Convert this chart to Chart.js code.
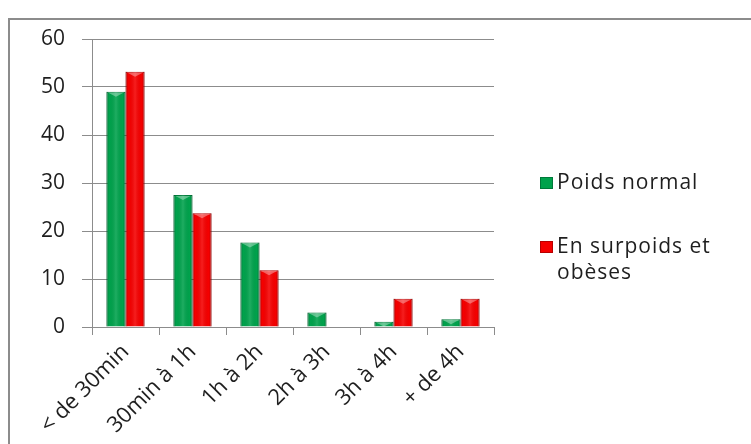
<!DOCTYPE html>
<html lang="fr">
<head>
    <meta charset="UTF-8">
    <title>Temps d'écran et poids</title>
    <script src="https://cdn.jsdelivr.net/npm/chart.js"></script>
    <style>
        html, body { margin: 0; padding: 0; background: #fff; overflow: hidden; }
        .cadre { position: absolute; left: 8px; top: 18px; width: 780px; height: 460px; border: 2px solid #8c8c8c; box-sizing: border-box; }
        .zone { position: absolute; left: 0; top: 0; width: 751px; height: 444px; }
    </style>
</head>
<body>
    <div class="cadre"></div>
    <div class="zone"><canvas id="graphique" width="751" height="444"></canvas></div>
    <script>
        // données
        const categories = ['< de 30min', '30min à 1h', '1h à 2h', '2h à 3h', '3h à 4h', '+ de 4h'];
        const poidsNormal = [49, 27.5, 17.6, 3, 1.1, 1.6];
        const surpoids = [53.2, 23.7, 11.8, 0, 5.9, 5.9];
        const graduations = [0, 10, 20, 30, 40, 50, 60];

        const police = '"Open Sans", Lato, sans-serif';

        // petit relief sur les barres, façon Excel 2007
        const reliefBarres = {
            id: 'reliefBarres',
            afterDatasetsDraw(chart) {
                const ctx = chart.ctx;
                ctx.save();
                chart.data.datasets.forEach((ds, i) => {
                    chart.getDatasetMeta(i).data.forEach(bar => {
                        const g = bar.width / 2;
                        const x0 = bar.x - g, x1 = bar.x + g;
                        const h = bar.base - bar.y;
                        if (h < 0.5) return;
                        const grad = ctx.createLinearGradient(x0, 0, x1, 0);
                        grad.addColorStop(0, 'rgba(0,0,0,0.22)');
                        grad.addColorStop(0.15, 'rgba(0,0,0,0)');
                        grad.addColorStop(0.5, 'rgba(255,255,255,0.12)');
                        grad.addColorStop(0.85, 'rgba(0,0,0,0)');
                        grad.addColorStop(1, 'rgba(0,0,0,0.22)');
                        ctx.fillStyle = grad;
                        ctx.fillRect(x0, bar.y, bar.width, h);
                        // reflet en triangle au sommet
                        const t = Math.min(5, h);
                        ctx.fillStyle = 'rgba(255,255,255,0.35)';
                        ctx.beginPath();
                        ctx.moveTo(x0 + 2, bar.y + 1);
                        ctx.lineTo(x1 - 2, bar.y + 1);
                        ctx.lineTo(bar.x, bar.y + t);
                        ctx.closePath();
                        ctx.fill();
                    });
                });
                ctx.restore();
            }
        };

        // légende dessinée à la main (le libellé rouge passe sur deux lignes)
        const legendePerso = {
            id: 'legendePerso',
            afterDraw(chart) {
                const ctx = chart.ctx;
                const items = [
                    { lignes: ['Poids normal'], couleur: '#00a24c', bord: '#00793a', y: 183 },
                    { lignes: ['En surpoids et', 'obèses'], couleur: '#f50000', bord: '#b80000', y: 247 }
                ];
                ctx.save();
                ctx.font = '21px ' + police;
                ctx.letterSpacing = '1px';
                ctx.textBaseline = 'middle';
                items.forEach(it => {
                    ctx.fillStyle = it.couleur;
                    ctx.fillRect(540, it.y - 6, 13, 12);
                    ctx.strokeStyle = it.bord;
                    ctx.lineWidth = 1;
                    ctx.strokeRect(540.5, it.y - 5.5, 12, 11);
                    ctx.fillStyle = '#1e1e1e';
                    it.lignes.forEach((t, i) => ctx.fillText(t, 557, it.y + i * 26));
                });
                ctx.restore();
            }
        };

        new Chart(document.getElementById('graphique'), {
            type: 'bar',
            data: {
                labels: categories,
                datasets: [
                    {
                        label: 'Poids normal',
                        data: poidsNormal,
                        backgroundColor: '#00a24c',
                        borderColor: '#007d3b',
                        borderWidth: 1
                    },
                    {
                        label: 'En surpoids et obèses',
                        data: surpoids,
                        backgroundColor: '#f50000',
                        borderColor: '#b80000',
                        borderWidth: 1
                    }
                ]
            },
            options: {
                responsive: false,
                animation: false,
                layout: { padding: { left: 0, top: 39, right: 257, bottom: 0 } },
                datasets: { bar: { categoryPercentage: 0.57, barPercentage: 1 } },
                plugins: { legend: { display: false }, tooltip: { enabled: false } },
                scales: {
                    x: {
                        afterFit(scale) { scale.height = 117; },
                        grid: { drawOnChartArea: false, drawTicks: true, tickLength: 8, color: '#8c8c8c' },
                        border: { color: '#8c8c8c' },
                        ticks: { color: '#1e1e1e', font: { family: police, size: 22 }, minRotation: 45, maxRotation: 45, padding: 4 }
                    },
                    y: {
                        min: 0,
                        max: 60,
                        afterFit(scale) { scale.width = 92; },
                        afterBuildTicks(scale) { scale.ticks = graduations.map(v => ({ value: v })); },
                        grid: { color: '#8c8c8c', tickLength: 10 },
                        border: { color: '#8c8c8c' },
                        ticks: { color: '#1e1e1e', font: { family: police, size: 21 }, padding: 17 }
                    }
                }
            },
            plugins: [reliefBarres, legendePerso]
        });
    </script>
</body>
</html>
